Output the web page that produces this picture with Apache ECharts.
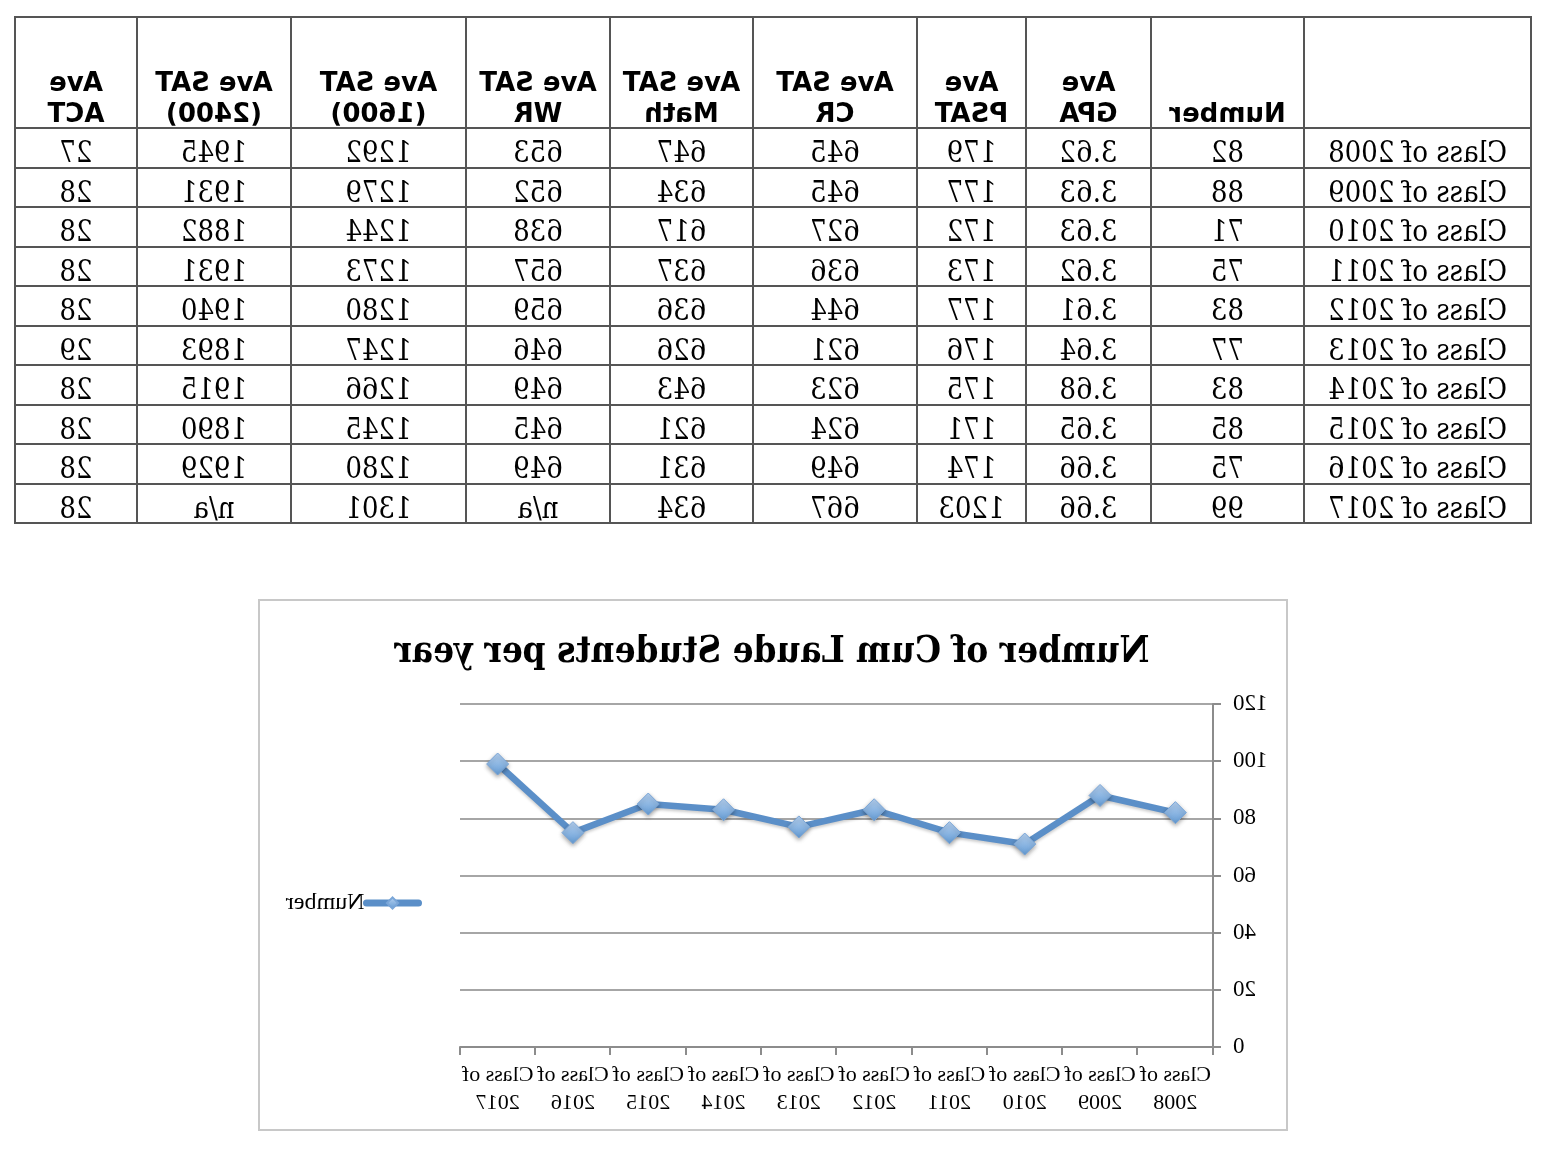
<!DOCTYPE html>
<html><head><meta charset="utf-8">
<script src="https://cdn.jsdelivr.net/npm/echarts@6.0.0/dist/echarts.min.js"></script>
<style>html,body{margin:0;padding:0;background:#fff}#chart{width:1544px;height:1157px;transform:scaleX(-1);}</style>
</head><body><div id="chart"></div>
<script>
// ---- data ----
const classes = ['Class of 2008','Class of 2009','Class of 2010','Class of 2011','Class of 2012','Class of 2013','Class of 2014','Class of 2015','Class of 2016','Class of 2017'];
const headers = ['Number','Ave\nGPA','Ave\nPSAT','Ave SAT\nCR','Ave SAT\nMath','Ave SAT\nWR','Ave SAT\n(1600)','Ave SAT\n(2400)','Ave\nACT'];
const number = [82,88,71,75,83,77,83,85,75,99];
const gpa = ['3.62','3.63','3.63','3.62','3.61','3.64','3.68','3.65','3.66','3.66'];
const psat = [179,177,172,173,177,176,175,171,174,1203];
const satCR = [645,645,627,636,644,621,623,624,649,667];
const satMath = [647,634,617,637,636,626,643,621,631,634];
const satWR = [653,652,638,657,659,646,649,645,649,'n/a'];
const sat1600 = [1292,1279,1244,1273,1280,1247,1266,1245,1280,1301];
const sat2400 = [1945,1931,1882,1931,1940,1893,1915,1890,1929,'n/a'];
const act = [27,28,28,28,28,29,28,28,28,28];
const chartTitle = 'Number of Cum Laude Students per year';
const yTicks = {min: 0, max: 120, interval: 20};

// ---- layout (not data) ----
const colWidths = [153,125,109,164,143,144,175,154,122];

// header cell text: two-line headers use rich styles so each line sits where the original does
const headerCells = headers.map(h => {
  const parts = h.split('\n');
  return parts.length === 2 ? '{a|' + parts[0] + '}\n{b|' + parts[1] + '}' : h;
});

const columns = [number, gpa, psat, satCR, satMath, satWR, sat1600, sat2400, act];
const bodyData = [];
columns.forEach((col, ci) => col.forEach((v, ri) => {
  bodyData.push({coord: [headerCells[ci], classes[ri]], value: String(v)});
}));

const cellStyle = {color: '#fff', borderColor: '#555', borderWidth: 2};
// text anchor is the cell centre; 'top' + lineHeight pushes the text a little below it
const serifLabel = {fontFamily: 'DejaVu Serif Condensed', fontSize: 29, lineHeight: 9, verticalAlign: 'top',
  color: '#000', overflow: 'none', lineOverflow: 'none'};
const headFont = {fontFamily: 'DejaVu Sans', fontWeight: 'bold', fontSize: 26, color: '#000'};

const chart = echarts.init(document.getElementById('chart'), null, {renderer: 'canvas'});
const option = {
  animation: false,
  backgroundColor: '#fff',
  matrix: {
    left: 13, top: 17, width: 1516, height: 506,
    backgroundStyle: {color: '#fff', borderColor: '#555', borderWidth: 2},
    x: {
      levelSize: 111,
      data: headerCells.map((h, i) => ({value: h, size: colWidths[i],
        label: {lineHeight: h.indexOf('\n') >= 0 ? 27 : 82}})),
      label: Object.assign({}, headFont, {lineHeight: 27, verticalAlign: 'top', overflow: 'none', lineOverflow: 'none',
        rich: {
          a: Object.assign({}, headFont, {lineHeight: 20}),
          b: Object.assign({}, headFont, {lineHeight: 42})
        }}),
      itemStyle: cellStyle,
      dividerLineStyle: {color: '#555', width: 2}
    },
    y: {
      levelSize: 227,
      data: classes,
      label: serifLabel,
      itemStyle: cellStyle,
      dividerLineStyle: {color: '#555', width: 2}
    },
    corner: {itemStyle: cellStyle},
    body: {data: bodyData, label: serifLabel, itemStyle: cellStyle}
  },
  title: {
    text: chartTitle, left: 'center', top: 629,
    textStyle: {fontFamily: 'DejaVu Serif Condensed', fontWeight: 'bold', fontSize: 36.5, color: '#000'}
  },
  legend: {
    orient: 'vertical', left: 1122, top: 891, padding: 0, itemWidth: 52, itemHeight: 14,
    data: ['Number'],
    lineStyle: {width: 7, color: '#5b8fc8', cap: 'round'},
    textStyle: {fontFamily: 'Liberation Serif', fontSize: 24, color: '#000', padding: [0, 0, 0, -3]}
  },
  grid: {left: 331, top: 704, width: 753, height: 343, containLabel: false},
  xAxis: {
    type: 'category', data: classes, boundaryGap: true,
    axisLine: {lineStyle: {color: '#8c8c8c', width: 2}},
    axisTick: {show: true, interval: 0, length: 8, lineStyle: {color: '#8c8c8c', width: 2}},
    axisLabel: {
      interval: 0, margin: 14, fontFamily: 'Liberation Serif', fontSize: 22, lineHeight: 28, color: '#000',
      formatter: v => v.replace(/ (\d{4})$/, '\n$1')
    }
  },
  yAxis: {
    type: 'value', min: yTicks.min, max: yTicks.max, interval: yTicks.interval,
    axisLine: {show: true, lineStyle: {color: '#8c8c8c', width: 2}},
    axisTick: {show: true, length: 8, lineStyle: {color: '#8c8c8c', width: 2}},
    splitLine: {lineStyle: {color: '#a6a6a6', width: 2}},
    axisLabel: {margin: 20, fontFamily: 'Liberation Serif', fontSize: 23, color: '#000'}
  },
  series: [{
    name: 'Number', type: 'line', data: number,
    symbol: 'diamond', symbolSize: 22,
    lineStyle: {color: '#5b8fc8', width: 6.5, shadowColor: 'rgba(0,0,0,0.2)', shadowBlur: 3, shadowOffsetY: 2},
    itemStyle: {
      color: new echarts.graphic.LinearGradient(0, 0, 0, 1, [{offset: 0, color: '#b8d3f2'}, {offset: 1, color: '#629ad3'}]),
      borderColor: '#7aa6d8', borderWidth: 1,
      shadowColor: 'rgba(0,0,0,0.35)', shadowBlur: 4, shadowOffsetY: 2
    }
  }],
  graphic: [{
    type: 'rect', z: -10, silent: true,
    shape: {x: 257, y: 600, width: 1028, height: 530},
    style: {fill: 'none', stroke: '#c8c8c8', lineWidth: 2}
  }]
};
chart.setOption(option);
</script></body></html>
